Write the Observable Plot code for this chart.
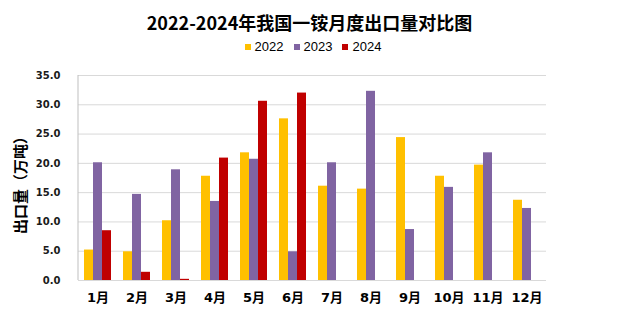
<!DOCTYPE html>
<html>
<head>
<meta charset="utf-8">
<script src="https://cdn.jsdelivr.net/npm/d3@7"></script>
<script src="https://cdn.jsdelivr.net/npm/@observablehq/plot@0.6"></script>
<style>
  html, body { margin: 0; padding: 0; background: #fff; }
  #wrap { width: 619px; height: 321px; position: relative; overflow: hidden; }
  #title { height: 34px; line-height: 34px; padding-top: 5px; text-align: center;
    font-family: "Noto Sans CJK SC", sans-serif; font-weight: bold; font-size: 18px; color: #000; }
  #legend { height: 16px; line-height: 16px; display: flex; justify-content: center; align-items: center;
    font-family: "Liberation Sans", Arial, sans-serif; font-size: 13px; color: #000; padding-left: 7px; }
  .item { display: flex; align-items: center; margin: 0 5px; }
  .sw { width: 6px; height: 6px; margin-right: 4px; }
  svg { display: block; }
</style>
</head>
<body>
<div id="wrap">
  <div id="title">2022-2024年我国一铵月度出口量对比图</div>
  <div id="legend"></div>
  <div id="chart"></div>
</div>
<script>
const months = ["1月","2月","3月","4月","5月","6月","7月","8月","9月","10月","11月","12月"];
const years = ["2022","2023","2024"];
const colors = ["#FFC000","#8064A2","#C00000"];
const v2022 = [5.2, 4.9, 10.2, 17.8, 21.8, 27.6, 16.1, 15.6, 24.4, 17.8, 19.7, 13.7];
const v2023 = [20.1, 14.7, 18.9, 13.5, 20.7, 4.9, 20.1, 32.3, 8.7, 15.9, 21.8, 12.3];
const v2024 = [8.5, 1.4, 0.2, 20.9, 30.6, 32.0, null, null, null, null, null, null];
const yTicks = [0, 5, 10, 15, 20, 25, 30, 35];
const yLabel = "出口量（万吨）";

const series = [v2022, v2023, v2024];
const data = [];
months.forEach((m, i) => {
  years.forEach((y, j) => {
    const v = series[j][i];
    if (v != null) data.push({month: m, year: y, value: v});
  });
});

const legend = document.getElementById("legend");
years.forEach((y, j) => {
  const it = document.createElement("div");
  it.className = "item";
  it.innerHTML = `<span class="sw" style="background:${colors[j]}"></span><span>${y}</span>`;
  legend.appendChild(it);
});

const chart = Plot.plot({
  width: 619,
  height: 266,
  marginTop: 20,
  marginBottom: 41,
  marginLeft: 77,
  marginRight: 73,
  style: {background: "transparent", overflow: "visible"},
  fx: {domain: months, padding: 0, label: null},
  x: {domain: years, paddingInner: 0, paddingOuter: 0.5, axis: null},
  y: {domain: [0, 35], axis: null},
  color: {domain: years, range: colors},
  marks: [
    Plot.ruleY(yTicks, {stroke: "#d9d9d9", strokeWidth: 1}),
    Plot.barY(data, {fx: "month", x: "year", y: "value", fill: "year"}),
    Plot.axisY(yTicks, {
      anchor: "left", tickSize: 0, tickPadding: 18,
      tickFormat: d3.format(".1f"),
      fontFamily: "DejaVu Sans", fontWeight: "bold", fontSize: 10, fill: "#1a1a1a",
      label: null
    }),
    Plot.axisFx({
      anchor: "bottom", tickSize: 0, tickPadding: 12,
      fontFamily: "DejaVu Sans, Noto Sans CJK SC", fontWeight: "bold", fontSize: 13, fill: "#000",
      label: null
    })
  ]
});

document.getElementById("chart").appendChild(chart);

const svg = d3.select(chart.tagName === "svg" ? chart : chart.querySelector("svg"));
const ys = chart.scale("y");
const fxs = chart.scale("fx");
const x0 = fxs.apply(months[0]);
svg.append("line")
  .attr("x1", x0).attr("x2", x0)
  .attr("y1", ys.apply(35)).attr("y2", ys.apply(0))
  .attr("stroke", "#bfbfbf");
svg.append("text")
  .attr("transform", `translate(19,${(ys.apply(0) + ys.apply(35)) / 2 + 4}) rotate(-90)`)
  .attr("text-anchor", "middle")
  .attr("dominant-baseline", "central")
  .attr("font-family", "Noto Sans CJK SC")
  .attr("font-weight", "bold")
  .attr("font-size", 15)
  .attr("fill", "#000")
  .text(yLabel);
</script>
</body>
</html>
